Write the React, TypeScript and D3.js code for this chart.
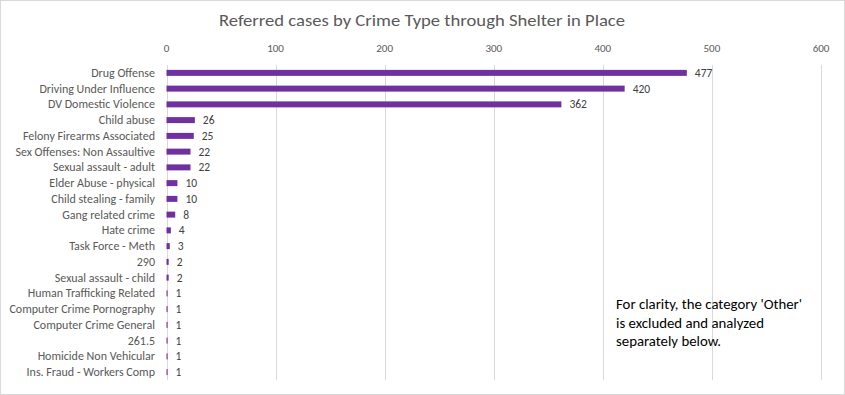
import React from "react";
import * as d3 from "d3";

const categories = [
  "Drug Offense",
  "Driving Under Influence",
  "DV Domestic Violence",
  "Child abuse",
  "Felony Firearms Associated",
  "Sex Offenses: Non Assaultive",
  "Sexual assault - adult",
  "Elder Abuse - physical",
  "Child stealing - family",
  "Gang related crime",
  "Hate crime",
  "Task Force - Meth",
  "290",
  "Sexual assault - child",
  "Human Trafficking Related",
  "Computer Crime Pornography",
  "Computer Crime General",
  "261.5",
  "Homicide Non Vehicular",
  "Ins. Fraud - Workers Comp",
];
const values = [477, 420, 362, 26, 25, 22, 22, 10, 10, 8, 4, 3, 2, 2, 1, 1, 1, 1, 1, 1];
const ticks = [0, 100, 200, 300, 400, 500, 600];
const title = "Referred cases by Crime Type through Shelter in Place";
const note = ["For clarity, the category 'Other'", "is excluded and analyzed", "separately below."];

const W = 845;
const H = 395;
const font = "Carlito, Calibri, Lato, 'Liberation Sans', sans-serif";

export default function App() {
  const x = d3.scaleLinear().domain([0, 600]).range([166.5, 821]);
  const y = d3.scaleBand<string>().domain(categories).range([65, 380]).paddingInner(0.62).paddingOuter(0.31);
  return (
    <svg width={W} height={H} style={{ position: "absolute", left: 0, top: 0 }}>
      <rect x={0.5} y={0.5} width={W - 1} height={H - 1} fill="#fff" stroke="#d9d9d9" />
      <text x={422} y={26} textAnchor="middle" fontFamily={font} fontSize={17} fill="#595959" textLength={406} lengthAdjust="spacingAndGlyphs">
        {title}
      </text>
      {ticks.map((t) => (
        <g key={t}>
          <line x1={Math.round(x(t)) + 0.5} x2={Math.round(x(t)) + 0.5} y1={65} y2={380} stroke="#d9d9d9" />
          <text x={x(t)} y={52} textAnchor="middle" fontFamily={font} fontSize={11} fill="#595959">
            {t}
          </text>
        </g>
      ))}
      {categories.map((c, i) => {
        const yc = (y(c) ?? 0) + y.bandwidth() / 2;
        return (
          <g key={c}>
            <text x={155} y={yc + 4} textAnchor="end" fontFamily={font} fontSize={12} fill="#595959">
              {c}
            </text>
            <rect x={x(0)} y={y(c)} width={x(values[i]) - x(0)} height={y.bandwidth()} fill="#7030A0" />
            <text x={x(values[i]) + 8} y={yc + 4} fontFamily={font} fontSize={11.5} fill="#404040">
              {values[i]}
            </text>
          </g>
        );
      })}
      {note.map((l, i) => (
        <text key={i} x={616} y={309 + i * 18.5} fontFamily={font} fontSize={14.8} fill="#000">
          {l}
        </text>
      ))}
    </svg>
  );
}
